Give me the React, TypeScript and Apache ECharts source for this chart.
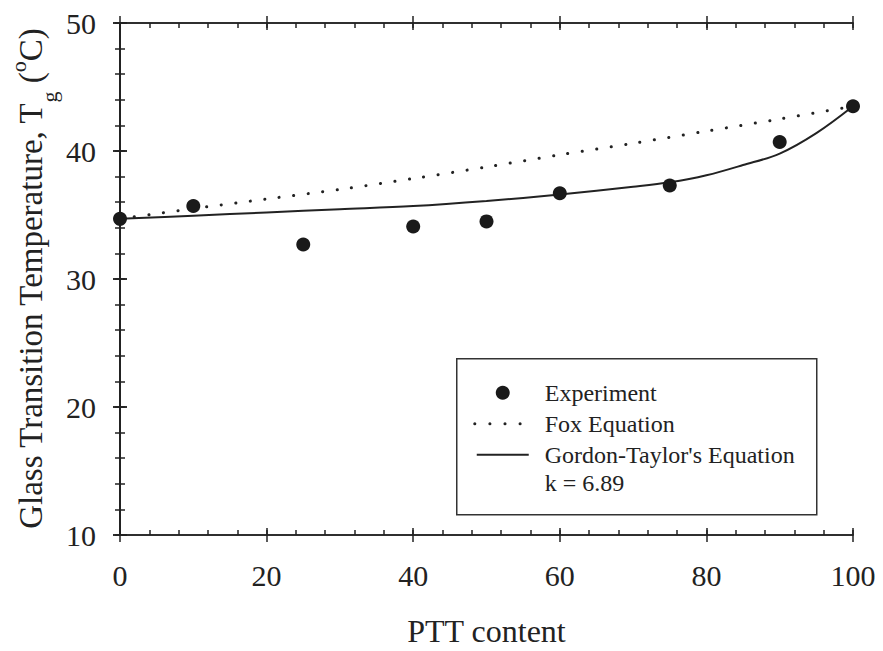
import React, { useEffect, useRef } from "react";
import * as echarts from "echarts";

// PTT content (wt%) of measured blends
const PTT_CONTENT = [0, 10, 25, 40, 50, 60, 75, 90, 100];
// Experimental glass transition temperatures (°C)
const TG_EXPERIMENT = [34.7, 35.7, 32.7, 34.1, 34.5, 36.7, 37.3, 40.7, 43.5];

// Fox equation curve
const FOX_X = [0, 10, 20, 30, 40, 50, 60, 70, 80, 90, 100];
const FOX_TG = [34.7, 35.5, 36.25, 37.0, 37.85, 38.75, 39.7, 40.6, 41.55, 42.5, 43.5];

// Gordon-Taylor curve, k = 6.89
const GT_X = [0, 10, 20, 30, 40, 50, 60, 70, 75, 80, 85, 90, 95, 100];
const GT_TG = [34.7, 34.95, 35.2, 35.45, 35.7, 36.1, 36.6, 37.2, 37.55, 38.1, 38.9, 39.8, 41.4, 43.5];

const X_TICKS = { min: 0, max: 100, interval: 20, minorInterval: 4 };
const Y_TICKS = { min: 10, max: 50, interval: 10, minorInterval: 2 };

const LEGEND_LABELS = ["Experiment", "Fox Equation", "Gordon-Taylor's Equation", "k = 6.89"];

const FONT = "Liberation Serif";
const INK = "#222";

export default function App() {
  const ref = useRef<HTMLDivElement>(null);

  useEffect(() => {
    if (!ref.current) return;
    const chart = echarts.init(ref.current, undefined, { renderer: "svg" });

    const gridBox = { left: 120, right: 30, top: 23, bottom: 116, containLabel: false, outerBoundsMode: "none" };
    const lineOn = { show: true, lineStyle: { color: INK, width: 1.5 } };
    const lineOff = { show: false };
    const tick = (inside: boolean, length: number) => ({
      show: true,
      inside,
      length,
      lineStyle: { color: INK, width: 1.5 },
    });
    const noLabel = { show: false };

    // grid 0: main (labels, inward major ticks); grid 1: outward major ticks; grid 2: inward minor ticks
    const layers = [
      { major: true, inside: true, len: 7, line: lineOn },
      { major: true, inside: false, len: 7, line: lineOn },
      { major: false, inside: true, len: 5, line: lineOff },
    ];

    const xAxes: any[] = [];
    const yAxes: any[] = [];
    layers.forEach((L, g) => {
      const xi = L.major ? X_TICKS.interval : X_TICKS.minorInterval;
      const yi = L.major ? Y_TICKS.interval : Y_TICKS.minorInterval;
      ["bottom", "top"].forEach((pos, k) => {
        const ax: any = {
          type: "value",
          gridIndex: g,
          position: pos,
          min: X_TICKS.min,
          max: X_TICKS.max,
          interval: xi,
          splitLine: { show: false },
          axisLine: L.line,
          axisTick: tick(L.inside, L.len),
          axisLabel: noLabel,
        };
        if (g === 0 && k === 0) {
          ax.axisLabel = { show: true, color: INK, fontSize: 30, fontFamily: FONT, margin: 25 };
          ax.name = "PTT content";
          ax.nameLocation = "middle";
          ax.nameGap = 80;
          ax.nameTextStyle = { color: INK, fontSize: 32, fontFamily: FONT };
        }
        xAxes.push(ax);
      });
      ["left", "right"].forEach((pos, k) => {
        const ax: any = {
          type: "value",
          gridIndex: g,
          position: pos,
          min: Y_TICKS.min,
          max: Y_TICKS.max,
          interval: yi,
          splitLine: { show: false },
          axisLine: L.line,
          axisTick: tick(L.inside, L.len),
          axisLabel: noLabel,
        };
        if (g === 0 && k === 0) {
          ax.axisLabel = { show: true, color: INK, fontSize: 30, fontFamily: FONT, margin: 24 };
          ax.name = "Glass Transition Temperature, T{sub|g} ({sup|o}C)";
          ax.nameLocation = "middle";
          ax.nameRotate = 90;
          ax.nameGap = 69;
          ax.nameMoveOverlap = false;
          ax.nameTextStyle = {
            color: INK,
            fontSize: 33,
            fontFamily: FONT,
            lineHeight: 40,
            rich: {
              sub: { fontSize: 22, fontFamily: FONT, color: INK, verticalAlign: "bottom", lineHeight: 40, padding: [0, 0, -9, 0] },
              sup: { fontSize: 22, fontFamily: FONT, color: INK, verticalAlign: "top", lineHeight: 40, padding: [-4, 0, 0, 0] },
            },
          };
        }
        yAxes.push(ax);
      });
    });

    const fox = FOX_X.map((x, i) => [x, FOX_TG[i]]);
    const gt = GT_X.map((x, i) => [x, GT_TG[i]]);
    const exp = PTT_CONTENT.map((x, i) => [x, TG_EXPERIMENT[i]]);

    chart.setOption({
      animation: false,
      backgroundColor: "#fff",
      textStyle: { fontFamily: FONT },
      grid: [gridBox, gridBox, gridBox],
      xAxis: xAxes,
      yAxis: yAxes,
      series: [
        {
          name: "Fox Equation",
          type: "line",
          xAxisIndex: 0,
          yAxisIndex: 0,
          data: fox,
          smooth: 0.3,
          symbol: "none",
          lineStyle: { color: INK, width: 3, type: [0.1, 14.5], cap: "round" },
          z: 2,
        },
        {
          name: "Gordon-Taylor's Equation",
          type: "line",
          xAxisIndex: 0,
          yAxisIndex: 0,
          data: gt,
          smooth: 0.35,
          symbol: "none",
          lineStyle: { color: INK, width: 2 },
          z: 3,
        },
        {
          name: "Experiment",
          type: "scatter",
          xAxisIndex: 0,
          yAxisIndex: 0,
          data: exp,
          symbol: "circle",
          symbolSize: 14,
          itemStyle: { color: "#1a1a1a", opacity: 1 },
          z: 4,
        },
      ],
      graphic: [
        {
          type: "group",
          left: 456,
          top: 358,
          z: 10,
          children: [
            {
              type: "rect",
              shape: { x: 0, y: 0, width: 360, height: 156 },
              style: { fill: "#fff", stroke: "#333", lineWidth: 1.5 },
            },
            { type: "circle", shape: { cx: 46, cy: 34, r: 7 }, style: { fill: "#1a1a1a" } },
            {
              type: "line",
              shape: { x1: 18, y1: 65, x2: 64, y2: 65 },
              style: { stroke: INK, lineWidth: 3, lineDash: [0.1, 15], lineCap: "round" },
            },
            {
              type: "line",
              shape: { x1: 20, y1: 96, x2: 72, y2: 96 },
              style: { stroke: INK, lineWidth: 2 },
            },
            ...LEGEND_LABELS.map((t, i) => ({
              type: "text",
              x: 88,
              y: [34, 65, 96, 124][i],
              style: { text: t, fontSize: 24, fontFamily: FONT, fill: INK, align: "left", verticalAlign: "middle" },
            })),
          ],
        },
      ],
    });

    return () => chart.dispose();
  }, []);

  return (
    <div
      ref={ref}
      style={{ position: "fixed", left: 0, top: 0, width: 883, height: 651, background: "#fff" }}
    />
  );
}
